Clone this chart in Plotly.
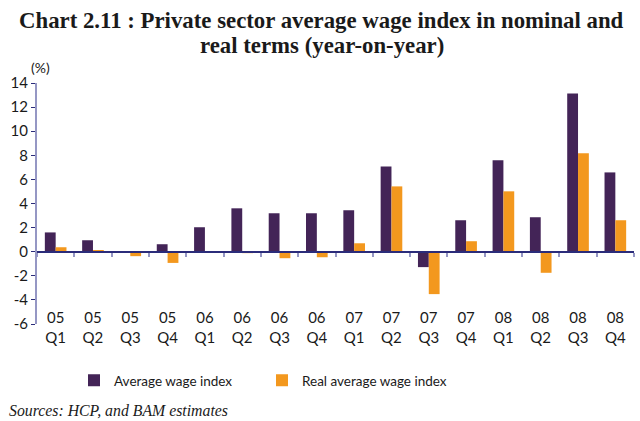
import plotly.graph_objects as go

years = ["05", "05", "05", "05", "06", "06", "06", "06",
         "07", "07", "07", "07", "08", "08", "08", "08"]
quarters = ["Q1", "Q2", "Q3", "Q4"] * 4
categories = [f"{y}<br>{q}" for y, q in zip(years, quarters)]

nominal = [1.6, 0.95, 0.0, 0.62, 2.03, 3.6, 3.19, 3.19,
           3.44, 7.08, -1.28, 2.61, 7.58, 2.86, 13.13, 6.58]
real = [0.37, 0.12, -0.37, -0.93, 0.0, -0.12, -0.54, -0.46,
        0.7, 5.42, -3.52, 0.87, 5.01, -1.75, 8.16, 2.61]

y_ticks = [-6, -4, -2, 0, 2, 4, 6, 8, 10, 12, 14]

PURPLE = "#432457"
ORANGE = "#F3981E"
NAVY = "#2B2C7A"
LIGHT = "#9597C4"
FONT = "Lato"
SERIF = "Liberation Serif"

fig = go.Figure()
fig.add_trace(go.Bar(x=categories, y=nominal, name="Average wage index",
                     marker=dict(color=PURPLE, line=dict(width=0))))
fig.add_trace(go.Bar(x=categories, y=real, name="Real average wage index",
                     marker=dict(color=ORANGE, line=dict(width=0))))
# axis that draws the zero line with boundary ticks
fig.add_trace(go.Scatter(x=categories, y=[None] * len(categories), xaxis="x2",
                         showlegend=False, hoverinfo="skip", mode="lines"))

fig.update_layout(
    width=640, height=421,
    paper_bgcolor="white", plot_bgcolor="white",
    margin=dict(l=37, r=6, t=83, b=97, autoexpand=False),
    barmode="group", bargap=0.42, bargroupgap=0,
    font=dict(family=FONT, size=13, color="#1a1a1a"),
    xaxis=dict(
        type="category", categoryorder="array", categoryarray=categories,
        range=[-0.5, 15.5], automargin=False,
        anchor="free", position=0.07,
        showline=False, ticks="", showgrid=False, zeroline=False,
        tickfont=dict(family=FONT, size=15, color="#1a1a1a"),
    ),
    xaxis2=dict(
        type="category", categoryorder="array", categoryarray=categories,
        range=[-0.5, 15.5], overlaying="x", matches="x", automargin=False,
        anchor="free", position=0.3, side="bottom",
        showline=True, linecolor=NAVY, linewidth=2,
        ticks="outside", tickson="boundaries", ticklen=4, tickwidth=2,
        tickcolor=LIGHT, showticklabels=False, showgrid=False, zeroline=False,
    ),
    yaxis=dict(
        range=[-6, 14], tickvals=y_ticks, ticktext=[str(v) for v in y_ticks],
        showline=True, linecolor=LIGHT, linewidth=2, automargin=False,
        ticks="outside", ticklen=4, tickcolor=NAVY, tickwidth=1,
        showgrid=False, zeroline=False,
        tickfont=dict(family=FONT, size=15, color="#1a1a1a"),
    ),
    legend=dict(
        orientation="h", x=0.062, xanchor="left", y=-0.17, yanchor="top",
        font=dict(family=FONT, size=13.5, color="#1a1a1a"),
        entrywidth=143, itemwidth=30, traceorder="normal",
    ),
    annotations=[
        dict(text="<b>Chart 2.11 : Private sector average wage index in nominal and</b>",
             xref="paper", yref="paper", x=0.477, y=1.261, xanchor="center", yanchor="middle",
             showarrow=False, font=dict(family=SERIF, size=22.8, color="#1a1a1a")),
        dict(text="<b>real terms (year-on-year)</b>",
             xref="paper", yref="paper", x=0.477, y=1.157, xanchor="center", yanchor="middle",
             showarrow=False, font=dict(family=SERIF, size=22.8, color="#1a1a1a")),
        dict(text="(%)", xref="paper", yref="paper", x=-0.013, y=1.02,
             xanchor="left", yanchor="bottom", showarrow=False,
             font=dict(family=FONT, size=14, color="#1a1a1a")),
        dict(text="<i>Sources: HCP, and BAM estimates</i>", xref="paper", yref="paper",
             x=-0.05, y=-0.36, xanchor="left", yanchor="middle", showarrow=False,
             font=dict(family=SERIF, size=15.8, color="#1a1a1a")),
    ],
)

fig.write_html("out.html", config={"displayModeBar": False},
               post_script="document.body.style.margin='0';")
